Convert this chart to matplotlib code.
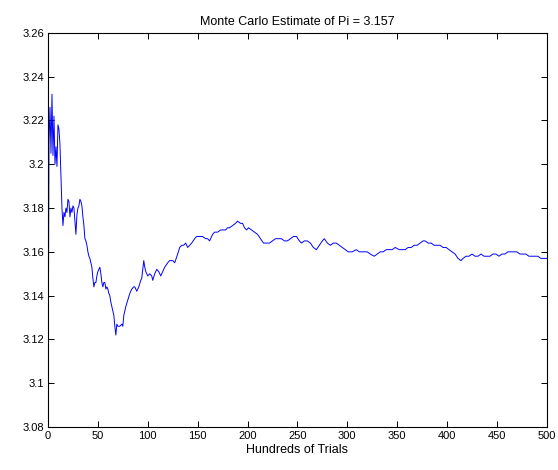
import matplotlib
matplotlib.use('Agg')
import matplotlib.pyplot as plt

# running estimate of pi, sampled every hundred trials
trials = [0, 1, 2, 3, 4, 5, 6, 7, 8, 9, 10, 11, 12, 13, 14, 15, 16, 17, 18, 19,
          20, 21, 22, 23, 24, 25, 26, 27, 28, 29, 30, 31, 32, 33, 34, 35, 36, 37, 38, 39,
          40, 41, 42, 43, 44, 45, 46, 47, 48, 49, 50, 51, 52, 53, 54, 55, 56, 57, 58, 59,
          60, 61, 62, 63, 64, 65, 66, 67, 68, 69, 70, 72, 74, 75, 76, 78, 80, 82, 84, 86,
          87, 89, 91, 93, 94, 96, 97, 98, 100, 102, 104, 105, 107, 109, 111, 113, 115, 117, 120, 122,
          125, 127, 130, 132, 134, 136, 138, 140, 142, 144, 147, 149, 152, 155, 158, 160, 162, 165, 167, 170,
          173, 175, 178, 180, 182, 185, 188, 190, 193, 195, 197, 199, 201, 204, 207, 210, 213, 216, 219, 222,
          225, 228, 231, 234, 237, 240, 243, 246, 249, 252, 254, 257, 260, 263, 266, 269, 272, 275, 277, 280,
          283, 286, 289, 292, 295, 298, 301, 305, 309, 312, 316, 320, 323, 327, 330, 333, 336, 339, 342, 345,
          348, 352, 355, 358, 361, 364, 367, 370, 373, 376, 378, 381, 384, 387, 390, 393, 396, 399, 402, 405,
          408, 411, 414, 416, 419, 422, 425, 428, 431, 434, 437, 440, 443, 446, 449, 452, 455, 458, 461, 464,
          467, 470, 473, 476, 479, 482, 485, 488, 491, 494, 497, 500]
estimate = [3.080, 3.210, 3.226, 3.205, 3.232, 3.204, 3.222, 3.200, 3.208, 3.199,
            3.218, 3.216, 3.209, 3.195, 3.180, 3.172, 3.178, 3.176, 3.180, 3.178,
            3.184, 3.183, 3.176, 3.180, 3.178, 3.181, 3.180, 3.174, 3.168, 3.177,
            3.180, 3.181, 3.184, 3.183, 3.181, 3.176, 3.172, 3.166, 3.165, 3.163,
            3.160, 3.158, 3.157, 3.155, 3.153, 3.148, 3.144, 3.146, 3.146, 3.149,
            3.151, 3.152, 3.153, 3.150, 3.146, 3.144, 3.146, 3.146, 3.143, 3.144,
            3.143, 3.141, 3.140, 3.137, 3.135, 3.133, 3.131, 3.126, 3.122, 3.127,
            3.126, 3.126, 3.127, 3.126, 3.131, 3.135, 3.138, 3.141, 3.143, 3.144,
            3.144, 3.142, 3.144, 3.147, 3.148, 3.156, 3.153, 3.151, 3.149, 3.150,
            3.149, 3.147, 3.150, 3.152, 3.151, 3.149, 3.151, 3.153, 3.155, 3.156,
            3.156, 3.155, 3.159, 3.162, 3.163, 3.163, 3.164, 3.162, 3.163, 3.164,
            3.166, 3.167, 3.167, 3.167, 3.166, 3.166, 3.165, 3.168, 3.169, 3.169,
            3.170, 3.170, 3.170, 3.171, 3.171, 3.172, 3.173, 3.174, 3.173, 3.173,
            3.171, 3.170, 3.171, 3.170, 3.169, 3.168, 3.166, 3.164, 3.164, 3.164,
            3.165, 3.166, 3.166, 3.166, 3.165, 3.165, 3.166, 3.167, 3.167, 3.165,
            3.164, 3.165, 3.165, 3.164, 3.162, 3.161, 3.163, 3.165, 3.166, 3.164,
            3.163, 3.164, 3.164, 3.163, 3.162, 3.161, 3.160, 3.160, 3.161, 3.160,
            3.160, 3.160, 3.159, 3.158, 3.159, 3.160, 3.160, 3.161, 3.161, 3.161,
            3.162, 3.161, 3.161, 3.161, 3.162, 3.162, 3.163, 3.163, 3.164, 3.165,
            3.165, 3.164, 3.164, 3.163, 3.163, 3.163, 3.162, 3.162, 3.161, 3.160,
            3.159, 3.157, 3.156, 3.157, 3.158, 3.158, 3.159, 3.158, 3.158, 3.159,
            3.158, 3.158, 3.158, 3.159, 3.159, 3.158, 3.159, 3.159, 3.160, 3.160,
            3.160, 3.160, 3.159, 3.159, 3.159, 3.158, 3.158, 3.158, 3.158, 3.157,
            3.157, 3.157]

xticks = list(range(0, 501, 50))
yticks = [3.08, 3.10, 3.12, 3.14, 3.16, 3.18, 3.20, 3.22, 3.24, 3.26]
ytick_labels = ['3.08', '3.1', '3.12', '3.14', '3.16', '3.18', '3.2', '3.22', '3.24', '3.26']

plt.rcParams['font.family'] = ['Liberation Sans', 'DejaVu Sans']
plt.rcParams['font.size'] = 8

fig = plt.figure(figsize=(5.58, 4.70), dpi=100)
ax = fig.add_axes([0.086, 0.0915, 0.894, 0.8385])

ax.plot(trials, estimate, color=(0, 0, 1), linewidth=0.7)

ax.set_xlim(0, 500)
ax.set_ylim(3.08, 3.26)
ax.set_xticks(xticks)
ax.set_xticklabels([str(t) for t in xticks])
ax.set_yticks(yticks)
ax.set_yticklabels(ytick_labels)
ax.tick_params(direction='in', length=4, width=0.7, top=True, right=True, pad=3)
for sp in ax.spines.values():
    sp.set_linewidth(0.8)

ax.set_title('Monte Carlo Estimate of Pi = 3.157', fontsize=9, pad=6)
ax.set_xlabel('Hundreds of Trials', fontsize=9, labelpad=2)

fig.savefig('out.png', dpi=100)
